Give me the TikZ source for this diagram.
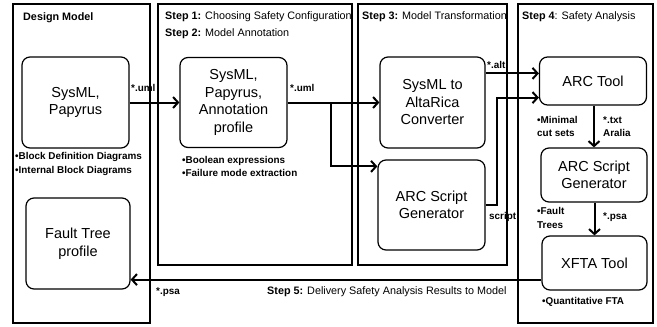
\documentclass[tikz,border=0pt]{standalone}
\usepackage{fontspec}
\setmainfont{Liberation Sans}
\usetikzlibrary{arrows.meta,calc}
\begin{document}
\begin{tikzpicture}[x=1pt,y=-1pt,
  panel/.style={draw, line width=1.2pt},
  box/.style={draw, line width=1.2pt, rounded corners=8pt, align=center, font=\fontsize{14.5}{17.5}\selectfont, inner sep=0pt},
  conn/.style={line width=2pt, -{Straight Barb[length=5pt,width=11pt]}},
  head/.style={anchor=west, inner sep=0pt, font=\fontsize{10.8}{12}\selectfont},
  lbl/.style={anchor=west, inner sep=0pt, align=left, font=\fontsize{9.9}{13.5}\selectfont\bfseries},
]
\useasboundingbox (0,0) rectangle (657,327);
\fill[white] (0,0) rectangle (657,327);
% panels
\draw[panel] (13,4) rectangle (150,323);
\draw[panel] (158,4) rectangle (352,265);
\draw[panel] (358,4) rectangle (507,265);
\draw[panel] (518,4) rectangle (653,323);
% headings
\node[head] (hdm) at (23,18) {\bfseries Design Model};
\node[head] (h1) at (165,17) {\textbf{Step 1:} Choosing Safety Configuration};
\node[head] (h2) at (165,34) {\textbf{Step 2:} Model Annotation};
\node[head] (h3) at (362,17) {\textbf{Step 3:} Model Transformation};
\node[head] (h4) at (522,17) {\textbf{Step 4}: Safety Analysis};
\node[head] (h5) at (267,292) {\textbf{Step 5:} Delivery Safety Analysis Results to Model};
% boxes
\node[box, minimum width=107pt, minimum height=91pt] (sp) at (75.5,102.5) {SysML,\\Papyrus};
\node[box, minimum width=107pt, minimum height=90pt] (ann) at (233.5,102.5) {SysML,\\Papyrus,\\Annotation\\profile};
\node[box, minimum width=105pt, minimum height=91pt] (conv) at (432.5,102.5) {SysML to\\AltaRica\\Converter};
\node[box, minimum width=107pt, minimum height=90pt] (gen1) at (431.5,205) {ARC Script\\Generator};
\node[box, minimum width=107pt, minimum height=48pt] (arc) at (593,81) {ARC Tool};
\node[box, minimum width=106pt, minimum height=54pt] (gen2) at (594,175) {ARC Script\\Generator};
\node[box, minimum width=105pt, minimum height=54pt] (xfta) at (594.5,263) {XFTA Tool};
\node[box, minimum width=104pt, minimum height=91pt] (ft) at (78,243.5) {Fault Tree\\profile};
% labels
\node[lbl] (l1) at (15,164) {•Block Definition Diagrams\\•Internal Block Diagrams};
\node[lbl] (l2) at (182,166.5) {•Boolean expressions\\•Failure mode extraction};
\node[lbl] (u1) at (131,88) {*.uml};
\node[lbl] (u2) at (290,88) {*.uml};
\node[lbl] (alt) at (487,65) {*.alt};
\node[lbl] (scr) at (489,217) {script};
\node[lbl] (mcs) at (537,126.5) {•Minimal\\cut sets};
\node[lbl] (txt) at (603,126.5) {*.txt\\Aralia};
\node[lbl] (flt) at (537,218) {•Fault\\Trees};
\node[lbl] (psa1) at (603,217) {*.psa};
\node[lbl] (qfta) at (542,302) {•Quantitative FTA};
\node[lbl] (psa2) at (156,292) {*.psa};
% connectors
\coordinate (br) at (331,102.5);
\coordinate (xo) at ($(xfta.south west)+(0,-11)$);
\draw[conn] (sp.east) -- (ann.west);
\draw[conn] (ann.east) -- (conv.west);
\draw[conn] (br) |- ($(gen1.north west)+(0,7)$);
\draw[conn] ($(conv.north east)+(0,17)$) -- ($(arc.north west)+(0,17)$);
\draw[conn] (gen1.east) -- ++(11,0) |- ($(arc.south west)+(0,-8)$);
\draw[conn] (gen2.north |- arc.south) -- (gen2.north);
\draw[conn] (xfta.north |- gen2.south) -- (xfta.north);
\draw[conn] (xo) -- (ft.east |- xo);
\end{tikzpicture}
\end{document}
